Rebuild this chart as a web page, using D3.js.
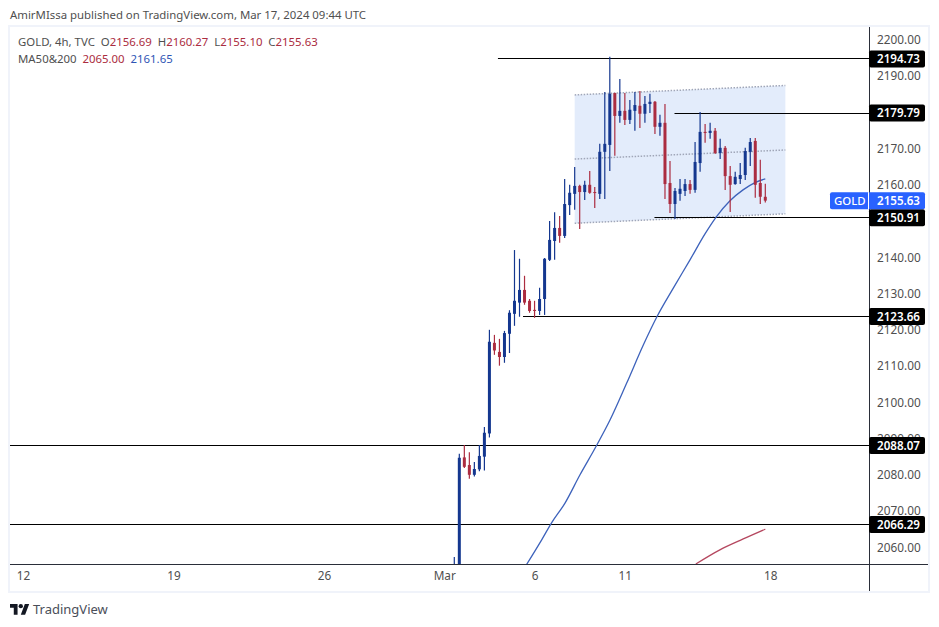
<!DOCTYPE html>
<html>
<head>
<meta charset="utf-8">
<script src="https://cdn.jsdelivr.net/npm/d3@7"></script>
<style>
  html, body { margin: 0; padding: 0; background: #fff; }
  svg { display: block; }
  text { font-family: "Noto Sans", sans-serif; white-space: pre; }
</style>
</head>
<body>
<svg id="chart" width="939" height="627"></svg>
<script>
// 4h candles, left to right
const opens = [2040, 2052, 2084.8, 2082.7, 2080.0, 2081.5, 2085.0, 2091.4, 2116.4, 2113.9, 2112.5, 2118.9, 2124.4, 2127.5, 2131.0, 2128.0, 2125.5, 2125.2, 2128.5, 2139.3, 2144.5, 2148.1, 2145.9, 2154.4, 2157.5, 2159.7, 2158.0, 2160.0, 2158.0, 2157.5, 2169.1, 2171.0, 2185.3, 2179.0, 2180.4, 2177.9, 2180.4, 2181.8, 2179.6, 2182.3, 2182.9, 2176.0, 2177.1, 2160.5, 2154.7, 2157.5, 2158.3, 2160.2, 2158.6, 2166.0, 2174.6, 2174.3, 2174.9, 2168.8, 2170.2, 2162.4, 2160.2, 2161.6, 2162.7, 2169.1, 2172.1, 2160.5, 2156.69];
const highs = [2057.3, 2085.8, 2088.2, 2086.2, 2083.5, 2088.2, 2093.2, 2120.0, 2118.6, 2117.5, 2119.7, 2125.4, 2142.0, 2139.6, 2134.9, 2128.5, 2128.0, 2131.6, 2139.8, 2150.0, 2152.4, 2151.4, 2161.6, 2160.0, 2164.9, 2160.0, 2161.1, 2163.8, 2159.4, 2171.3, 2185.6, 2195.3, 2185.4, 2189.2, 2185.3, 2183.4, 2185.6, 2185.9, 2184.5, 2185.1, 2183.1, 2179.3, 2182.3, 2166.6, 2159.1, 2161.6, 2161.6, 2161.3, 2171.8, 2180.1, 2176.8, 2177.1, 2175.7, 2172.7, 2170.7, 2165.2, 2163.6, 2166.0, 2170.2, 2172.9, 2172.9, 2166.9, 2160.27];
const lows = [2038, 2045, 2081.9, 2078.9, 2079.5, 2081.0, 2081.2, 2090.3, 2113.1, 2110.1, 2110.9, 2113.6, 2121.1, 2123.6, 2126.9, 2124.7, 2123.3, 2124.1, 2124.1, 2139.0, 2139.3, 2144.0, 2145.3, 2151.7, 2153.1, 2147.8, 2155.8, 2157.5, 2153.6, 2156.1, 2156.1, 2163.8, 2168.0, 2177.1, 2176.5, 2176.8, 2174.9, 2175.7, 2177.1, 2179.8, 2174.0, 2173.5, 2156.1, 2152.2, 2150.6, 2155.6, 2156.9, 2157.5, 2157.8, 2163.6, 2171.6, 2172.7, 2168.5, 2167.1, 2158.6, 2152.5, 2160.0, 2160.2, 2161.3, 2165.2, 2156.4, 2154.7, 2155.10];
const closes = [2050, 2084.7, 2082.2, 2080.0, 2081.6, 2085.2, 2091.6, 2116.7, 2114.3, 2112.5, 2119.1, 2124.7, 2128.0, 2131.0, 2127.5, 2125.2, 2125.2, 2128.5, 2139.6, 2144.8, 2148.1, 2145.9, 2154.7, 2157.8, 2159.7, 2158.0, 2160.0, 2157.8, 2157.8, 2169.1, 2171.3, 2185.1, 2179.0, 2180.4, 2177.9, 2180.7, 2182.0, 2179.6, 2182.3, 2182.9, 2176.0, 2177.1, 2160.2, 2154.7, 2158.3, 2158.9, 2160.2, 2158.6, 2166.3, 2174.6, 2174.3, 2174.9, 2168.8, 2170.2, 2162.4, 2160.0, 2162.2, 2162.7, 2169.3, 2171.8, 2160.0, 2156.7, 2155.63];

// moving averages, vertices as [candle index, price]
const ma200Index = [14.43, 17.48, 19.42, 22.07, 25.06, 28.25, 31.04, 34.37, 37.68, 40.47, 43.66, 46.99, 50.04, 52.2, 54.96, 57.56, 59.95, 62];
const ma200Values = [2055.3, 2062.2, 2066.8, 2072.2, 2080.0, 2087.8, 2095.1, 2105.3, 2115.8, 2123.8, 2131.5, 2139.3, 2146.6, 2151.1, 2155.6, 2158.6, 2160.6, 2161.65];
const ma50Index = [48.15, 52.94, 57.6, 62];
const ma50Values = [2055.4, 2059.3, 2062.3, 2065.0];

// horizontal levels and the candle index they start from
const levelValues = [2194.73, 2179.79, 2150.91, 2123.66, 2088.07, 2066.29];
const levelStarts = [8.7, 43.9, 39.9, 13.7, -89, -89];

// parallel channel: [start, end] index, and top/middle/bottom prices at each end
const channelIndex = [24, 66];
const channelTop = [2184.8, 2187.4];
const channelMid = [2167.1, 2169.6];
const channelBottom = [2149.4, 2152.0];

const priceTicks = [2200, 2190, 2170, 2160, 2140, 2130, 2120, 2110, 2100, 2090, 2080, 2070, 2060];
const timeTickIndex = [-86, -56, -26, -2, 16, 34, 63];
const timeTickLabels = ["12", "19", "26", "Mar", "6", "11", "18"];
const lastPrice = 2155.63;

const BLUE = "#14378f", RED = "#ab2c40", TEXT = "#4f4f4f";
const FONT = 11.4;
const plot = { left: 10, right: 869, top: 27, bottom: 564, panel: 928, panelBottom: 591 };

const x = d3.scaleLinear().domain([0, 62]).range([454.3, 765.3]);
const y = d3.scaleLinear().domain([2060, 2200]).range([547.3, 39.8]);

const svg = d3.select("#chart");

svg.append("defs").append("clipPath").attr("id", "plotClip")
    .append("rect")
    .attr("x", plot.left).attr("y", plot.top)
    .attr("width", plot.right - plot.left).attr("height", plot.bottom - plot.top);

// title
svg.append("text").attr("x", 10).attr("y", 19)
    .attr("font-size", FONT).attr("fill", TEXT)
    .text("AmirMIssa published on TradingView.com, Mar 17, 2024 09:44 UTC");

// card
svg.append("rect")
    .attr("x", plot.left - 1).attr("y", plot.top - 1)
    .attr("width", plot.panel - plot.left + 2).attr("height", plot.panelBottom - plot.top + 2)
    .attr("fill", "#fff").attr("stroke", "#f0f3fa").attr("stroke-width", 2);

const chart = svg.append("g").attr("clip-path", "url(#plotClip)");

// channel
const channelArea = d3.area()
    .x((d, i) => x(channelIndex[i]))
    .y0((d, i) => y(channelBottom[i]))
    .y1(d => y(d));
chart.append("path").datum(channelTop)
    .attr("d", channelArea)
    .attr("fill", "#e3ecfb");

const channelLine = d3.line().x((d, i) => x(channelIndex[i])).y(d => y(d));
[channelTop, channelMid, channelBottom].forEach(s => {
  chart.append("path").datum(s)
      .attr("d", channelLine)
      .attr("fill", "none")
      .attr("stroke", "#a0a6b8")
      .attr("stroke-width", 1.5)
      .attr("stroke-dasharray", "1.5 1.5");
});

// levels
chart.selectAll(".level").data(levelValues).join("line")
    .attr("class", "level")
    .attr("x1", (d, i) => x(levelStarts[i]))
    .attr("x2", plot.right)
    .attr("y1", d => Math.floor(y(d)) + 0.5)
    .attr("y2", d => Math.floor(y(d)) + 0.5)
    .attr("stroke", "#000")
    .attr("stroke-width", 1.2);

// moving averages
const maLine = idx => d3.line().x((d, i) => x(idx[i])).y(d => y(d)).curve(d3.curveMonotoneX);
chart.append("path").datum(ma200Values)
    .attr("d", maLine(ma200Index))
    .attr("fill", "none").attr("stroke", "#3d62bb").attr("stroke-width", 1.3);
chart.append("path").datum(ma50Values)
    .attr("d", maLine(ma50Index))
    .attr("fill", "none").attr("stroke", "#b5475f").attr("stroke-width", 1.3);

// candles
const candles = chart.selectAll(".candle").data(opens).join("g").attr("class", "candle");
const colour = (d, i) => closes[i] >= d ? BLUE : RED;
candles.append("line")
    .attr("x1", (d, i) => x(i)).attr("x2", (d, i) => x(i))
    .attr("y1", (d, i) => y(highs[i])).attr("y2", (d, i) => y(lows[i]))
    .attr("stroke", colour).attr("stroke-width", 1.2);
candles.append("rect")
    .attr("x", (d, i) => x(i) - 1.5)
    .attr("width", 3)
    .attr("y", (d, i) => y(Math.max(d, closes[i])))
    .attr("height", (d, i) => Math.max(1, Math.abs(y(d) - y(closes[i]))))
    .attr("fill", colour);

// axis frame
svg.append("line").attr("x1", plot.right + 0.5).attr("x2", plot.right + 0.5)
    .attr("y1", plot.top).attr("y2", plot.panelBottom)
    .attr("stroke", "#2a2e39");
svg.append("line").attr("x1", plot.left).attr("x2", plot.panel)
    .attr("y1", plot.bottom + 0.5).attr("y2", plot.bottom + 0.5)
    .attr("stroke", "#2a2e39");

// price axis
const yAxis = svg.append("g")
    .attr("transform", `translate(${plot.right},0)`)
    .call(d3.axisRight(y).tickValues(priceTicks).tickSize(0).tickPadding(8).tickFormat(d3.format(".2f")));
yAxis.select(".domain").remove();
yAxis.selectAll("text").attr("font-size", FONT + 0.4).attr("fill", TEXT).style("font-family", '"Noto Sans", sans-serif');

// time axis
const xAxis = svg.append("g")
    .attr("transform", `translate(0,${plot.bottom})`)
    .call(d3.axisBottom(x).tickValues(timeTickIndex).tickSize(0).tickPadding(8)
      .tickFormat((d, i) => timeTickLabels[i]));
xAxis.select(".domain").remove();
xAxis.selectAll("text").attr("font-size", FONT + 0.4).attr("fill", TEXT).style("font-family", '"Noto Sans", sans-serif');

// legend
const legend1 = svg.append("text").attr("x", 18).attr("y", 46).attr("font-size", FONT).attr("fill", TEXT);
legend1.append("tspan").text("GOLD, 4h, TVC  O");
legend1.append("tspan").attr("fill", RED).text(d3.format(".2f")(opens[62]));
legend1.append("tspan").text("  H");
legend1.append("tspan").attr("fill", RED).text(d3.format(".2f")(highs[62]));
legend1.append("tspan").text("  L");
legend1.append("tspan").attr("fill", RED).text(d3.format(".2f")(lows[62]));
legend1.append("tspan").text("  C");
legend1.append("tspan").attr("fill", RED).text(d3.format(".2f")(closes[62]));

const legend2 = svg.append("text").attr("x", 18).attr("y", 63).attr("font-size", FONT).attr("fill", TEXT);
legend2.append("tspan").text("MA50&200  ");
legend2.append("tspan").attr("fill", RED).text(d3.format(".2f")(ma50Values[3]));
legend2.append("tspan").text("  ");
legend2.append("tspan").attr("fill", "#2f55b5").text(d3.format(".2f")(ma200Values[17]));

// price tags
const tags = svg.selectAll(".tag").data(levelValues).join("g").attr("class", "tag");
tags.append("rect")
    .attr("x", plot.right).attr("y", d => y(d) - 8.5)
    .attr("width", 56).attr("height", 17).attr("rx", 2)
    .attr("fill", "#000");
tags.append("text")
    .attr("x", plot.right + 8).attr("y", d => y(d) + 4.2)
    .attr("font-size", FONT + 0.2).attr("font-weight", 600).attr("fill", "#fff")
    .text(d => d.toFixed(2));

const lastTag = svg.append("g");
lastTag.append("rect")
    .attr("x", 830).attr("y", y(lastPrice) - 8.5)
    .attr("width", 95).attr("height", 17).attr("rx", 2)
    .attr("fill", "#2962ff");
lastTag.append("line")
    .attr("x1", plot.right - 0.5).attr("x2", plot.right - 0.5)
    .attr("y1", y(lastPrice) - 8.5).attr("y2", y(lastPrice) + 8.5)
    .attr("stroke", "#fff");
lastTag.append("text")
    .attr("x", 834).attr("y", y(lastPrice) + 4.2)
    .attr("font-size", FONT).attr("font-weight", 500).attr("fill", "#fff").text("GOLD");
lastTag.append("text")
    .attr("x", plot.right + 8).attr("y", y(lastPrice) + 4.2)
    .attr("font-size", FONT + 0.2).attr("font-weight", 600).attr("fill", "#fff")
    .text(lastPrice.toFixed(2));

// logo
const logo = svg.append("g").attr("transform", "translate(10,604) scale(0.54)").attr("fill", "#131722");
logo.append("path").attr("d", "M14 20H7V7H0V0h14v20zM28 20h-8L27.5 0h8L28 20z");
logo.append("circle").attr("cx", 20).attr("cy", 4).attr("r", 4);
svg.append("text").attr("x", 33).attr("y", 614)
    .attr("font-size", 13).attr("fill", "#4a4e59").text("TradingView");
</script>
</body>
</html>
